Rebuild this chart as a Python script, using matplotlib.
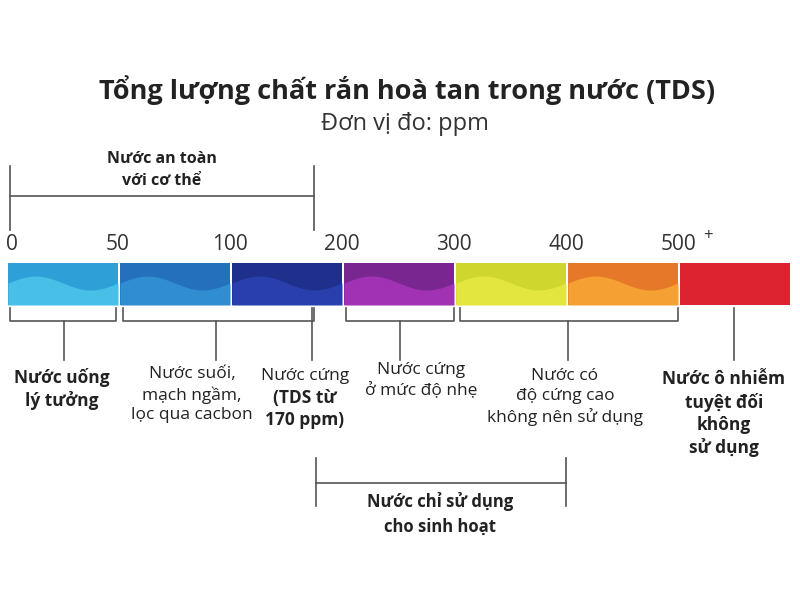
import numpy as np
import matplotlib
matplotlib.use("Agg")
import matplotlib.pyplot as plt

plt.rcParams['font.family'] = ['Open Sans', 'DejaVu Sans']

tick_labels = ["0", "50", "100", "200", "300", "400", "500"]
seg_colors_dark = ["#2f9fd8", "#2470bd", "#1f2f8c", "#7a2690", "#cfd62e", "#e6782a", "#dd2330"]
seg_colors_light = ["#47bfe6", "#2f8dd0", "#2a3fae", "#a032b3", "#e4e640", "#f4a033", "#dd2330"]
label_groups = [(0, 0.96), (1.01, 2.73), (3.0, 3.98), (4.02, 5.98)]
group_stems = [0.5, 1.86, 3.5, 5.0]

fig = plt.figure(figsize=(8, 6), dpi=100)
ax = fig.add_axes([0, 0, 1, 1])
ax.set_xlim(0, 800); ax.set_ylim(600, 0); ax.axis("off")

x0, w = 8, 112.0
bt, bb = 263, 305
def X(v): return x0 + v * w

for i, (cd, cl) in enumerate(zip(seg_colors_dark, seg_colors_light)):
    ax.bar(X(i), bb - bt, width=w - 2, bottom=bt, align="edge", color=cd, zorder=2)
    if i < 6:
        xs = np.linspace(X(i), X(i) + w - 2, 60)
        ys = bt + 20 - 7 * np.sin((xs - X(i)) / (w - 2) * 2 * np.pi)
        ax.fill_between(xs, ys, bb, color=cl, zorder=3, lw=0)

for i, t in enumerate(tick_labels):
    ax.text(X(i) + (4 if i == 0 else -2), 245, t, ha="center", va="center", fontsize=15, color="#333333")
ax.text(X(6) + 28, 236, "+", ha="center", va="center", fontsize=12, color="#333333")

lc = dict(color="#555555", lw=1.2)
ax.plot([10, 10], [166, 230], **lc); ax.plot([314, 314], [166, 230], **lc)
ax.plot([10, 314], [196, 196], **lc)
ax.text(162, 170, "Nước an toàn\nvới cơ thể", ha="center", va="center", fontsize=11.5,
        fontweight="bold", color="#222222", linespacing=1.5)

for (a, b), s in zip(label_groups, group_stems):
    xa, xb, xs = X(a) + 2, X(b), X(s)
    ax.plot([xa, xa, xb, xb], [308, 321, 321, 308], **lc)
    ax.plot([xs, xs], [321, 360], **lc)
ax.plot([312, 312], [308, 360], **lc)
ax.plot([734, 734], [308, 360], **lc)

ax.plot([316, 316], [458, 506], **lc); ax.plot([566, 566], [458, 506], **lc)
ax.plot([316, 566], [483, 483], **lc)
ax.text(440, 514, "Nước chỉ sử dụng\ncho sinh hoạt", ha="center", va="center", fontsize=12,
        fontweight="bold", color="#222222", linespacing=1.5)

ax.text(407, 90, "Tổng lượng chất rắn hoà tan trong nước (TDS)", ha="center", va="center",
        fontsize=19.5, fontweight="bold", color="#222222")
ax.text(405, 124, "Đơn vị đo: ppm", ha="center", va="center", fontsize=17, color="#333333")

tk = dict(ha="center", va="top", fontsize=12.5, color="#222222", linespacing=1.3)
ax.text(62, 368, "Nước uống\nlý tưởng", fontweight="bold", **tk)
ax.text(192, 366, "Nước suối,\nmạch ngầm,\nlọc qua cacbon", **tk)
ax.text(305, 368, "Nước cứng", **tk)
ax.text(305, 389, "(TDS từ\n170 ppm)", fontweight="bold", **tk)
ax.text(421, 362, "Nước cứng\nở mức độ nhẹ", **tk)
ax.text(565, 368, "Nước có\nđộ cứng cao\nkhông nên sử dụng", **tk)
ax.text(724, 370, "Nước ô nhiễm\ntuyệt đối\nkhông\nsử dụng", fontweight="bold", **tk)

fig.savefig("out.png", dpi=100, facecolor="white")
